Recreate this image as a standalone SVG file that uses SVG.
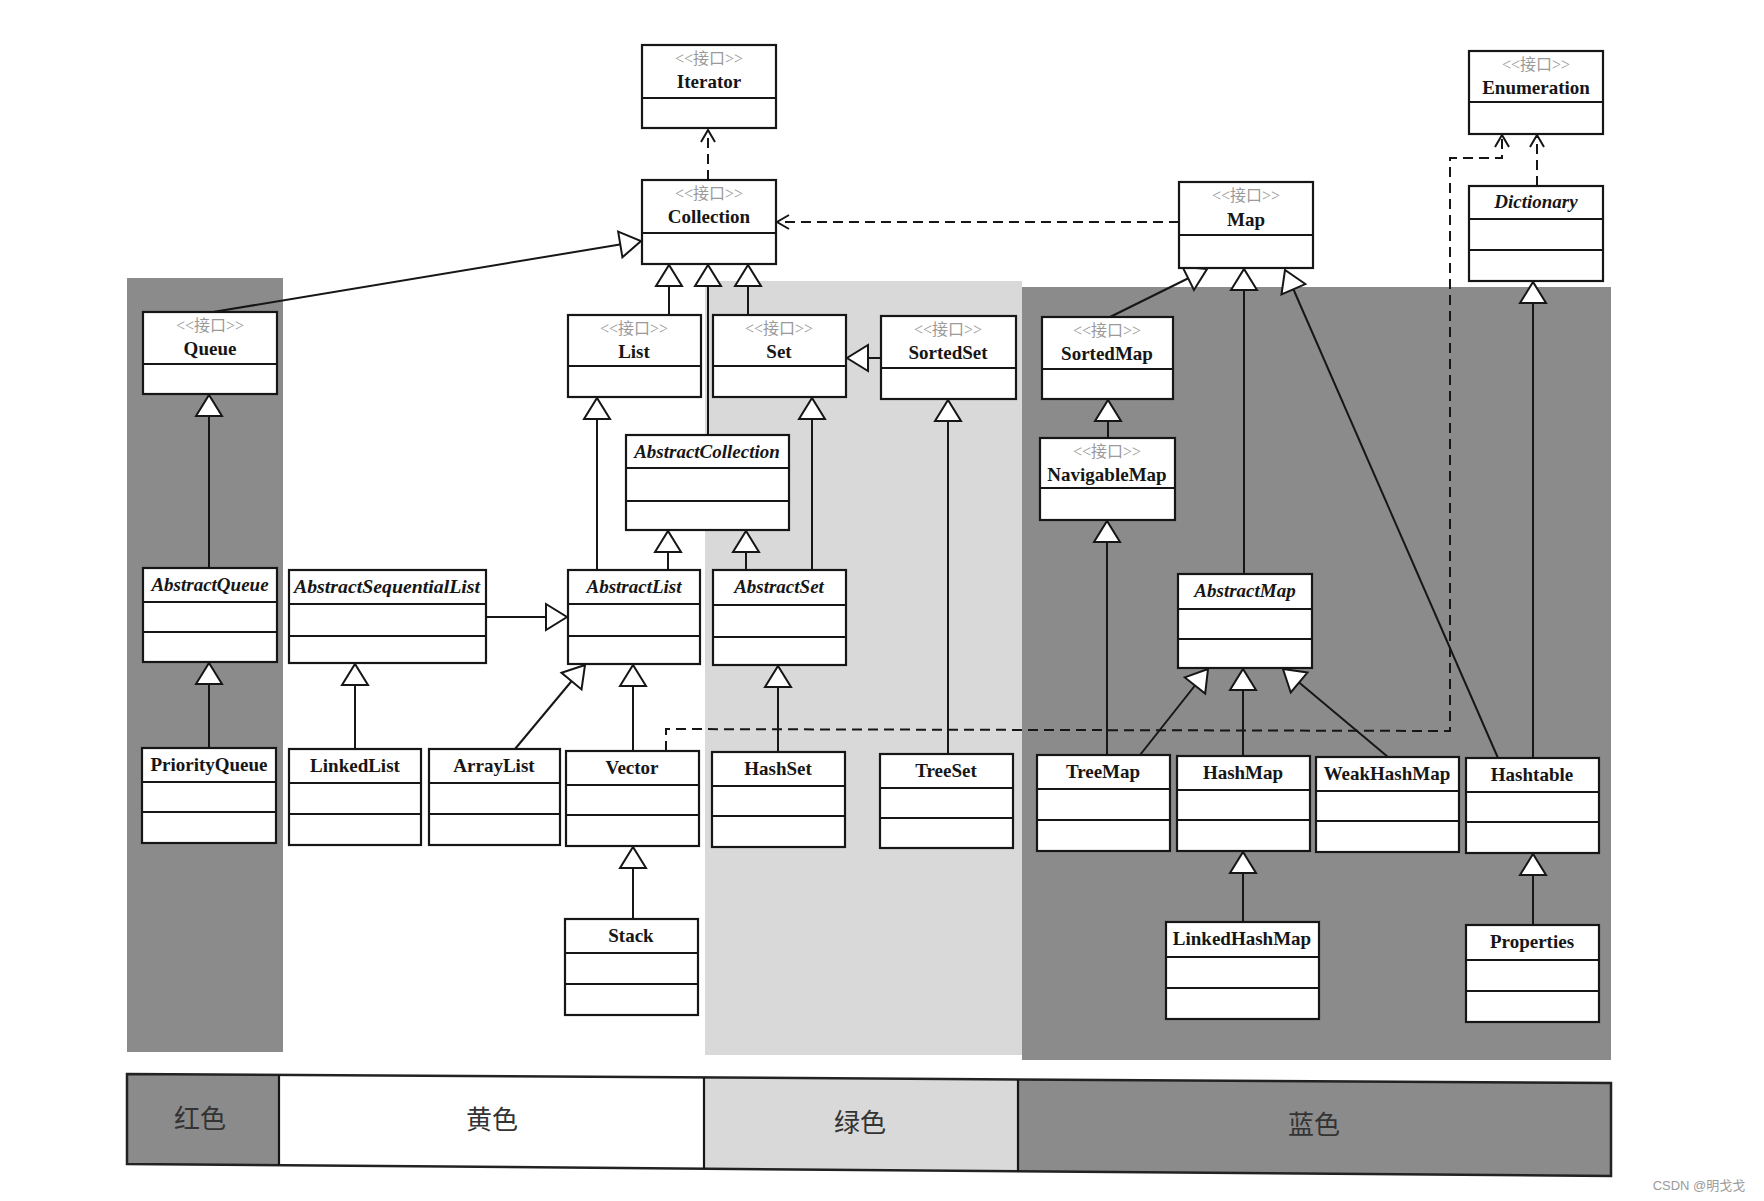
<svg xmlns="http://www.w3.org/2000/svg" width="1764" height="1201" viewBox="0 0 1764 1201">
<style>
.bg{fill:#fff}
.dk{fill:#8b8b8b}
.lt{fill:#d9d9d9}
.box{fill:#fff;stroke:#161616;stroke-width:2.2}
.dv{stroke:#161616;stroke-width:2.2}
.st{font-family:"Liberation Serif","Noto Sans CJK SC",serif;font-size:16px;fill:#9a9a9a;text-anchor:middle}
.nm{font-family:"Liberation Serif",serif;font-size:19px;font-weight:bold;fill:#161616;text-anchor:middle}
.it{font-style:italic}
.ln{stroke:#161616;stroke-width:2;fill:none}
.ds{stroke:#161616;stroke-width:2;fill:none;stroke-dasharray:10 6}
.lg{font-family:"Noto Sans CJK SC","Liberation Sans",sans-serif;font-size:26px;fill:#333;text-anchor:middle}
.wm{font-family:"Liberation Sans","Noto Sans CJK SC",sans-serif;font-size:13px;fill:#9a9a9a;text-anchor:middle}
.lgb{stroke:#222;stroke-width:2.5;fill:none}
</style>
<defs>
<marker id="tri" viewBox="-2 -2 26 32" refX="21" refY="13" markerWidth="26" markerHeight="32" markerUnits="userSpaceOnUse" orient="auto">
<path d="M0,0 L21,13 L0,26 Z" fill="#fff" stroke="#161616" stroke-width="2"/>
</marker>
<marker id="opn" viewBox="-2 -2 16 18" refX="12" refY="7" markerWidth="16" markerHeight="18" markerUnits="userSpaceOnUse" orient="auto">
<path d="M0,0 L12,7 L0,14" fill="none" stroke="#161616" stroke-width="2"/>
</marker>
</defs>
<rect class="bg" x="0" y="0" width="1764" height="1201"/>
<g id="regions">
<rect class="dk" x="127" y="278" width="156" height="774"/>
<rect class="lt" x="705" y="281" width="317" height="774"/>
<rect class="dk" x="1022" y="287" width="589" height="773"/>
</g>
<g id="legend">
<polygon class="dk" points="127,1074 279,1075 279,1165 127,1164"/>
<polygon fill="#fff" points="279,1075 704,1077.5 704,1168.7 279,1165"/>
<polygon class="lt" points="704,1077.5 1018,1079.4 1018,1171.2 704,1168.7"/>
<polygon class="dk" points="1018,1079.4 1611,1083 1611,1176 1018,1171.2"/>
<polygon class="lgb" points="127,1074 1611,1083 1611,1176 127,1164"/>
<line class="dv" x1="279" y1="1075" x2="279" y2="1165"/>
<line class="dv" x1="704" y1="1077.5" x2="704" y2="1168.7"/>
<line class="dv" x1="1018" y1="1079.4" x2="1018" y2="1171.2"/>
<text class="lg" x="200" y="1128">红色</text>
<text class="lg" x="492" y="1129">黄色</text>
<text class="lg" x="860" y="1132">绿色</text>
<text class="lg" x="1314" y="1134">蓝色</text>
</g>
<g id="connectors">
<path class="ds" d="M708,180 L708,130" marker-end="url(#opn)"/>
<path class="ds" d="M1179,222 L777,222" marker-end="url(#opn)"/>
<path class="ds" d="M1537,186 L1537,135" marker-end="url(#opn)"/>
<path class="ds" d="M666,751 L666,729 L1450,731 L1450,158 L1502,158 L1502,135" marker-end="url(#opn)"/>
<path class="ln" d="M213,312 L641,241" marker-end="url(#tri)"/>
<path class="ln" d="M669,315 L669,265" marker-end="url(#tri)"/>
<path class="ln" d="M708,435 L708,265" marker-end="url(#tri)"/>
<path class="ln" d="M748,315 L748,265" marker-end="url(#tri)"/>
<path class="ln" d="M881,358 L847,358" marker-end="url(#tri)"/>
<path class="ln" d="M597,570 L597,398" marker-end="url(#tri)"/>
<path class="ln" d="M668,570 L668,531" marker-end="url(#tri)"/>
<path class="ln" d="M746,570 L746,531" marker-end="url(#tri)"/>
<path class="ln" d="M812,570 L812,398" marker-end="url(#tri)"/>
<path class="ln" d="M948,754 L948,400" marker-end="url(#tri)"/>
<path class="ln" d="M778,752 L778,666" marker-end="url(#tri)"/>
<path class="ln" d="M209,568 L209,395" marker-end="url(#tri)"/>
<path class="ln" d="M209,748 L209,663" marker-end="url(#tri)"/>
<path class="ln" d="M486,617 L567,617" marker-end="url(#tri)"/>
<path class="ln" d="M355,749 L355,664" marker-end="url(#tri)"/>
<path class="ln" d="M515,749 L585,665" marker-end="url(#tri)"/>
<path class="ln" d="M633,751 L633,665" marker-end="url(#tri)"/>
<path class="ln" d="M633,919 L633,847" marker-end="url(#tri)"/>
<path class="ln" d="M1110,317 L1207,269" marker-end="url(#tri)"/>
<path class="ln" d="M1108,438 L1108,400" marker-end="url(#tri)"/>
<path class="ln" d="M1107,755 L1107,521" marker-end="url(#tri)"/>
<path class="ln" d="M1244,574 L1244,269" marker-end="url(#tri)"/>
<path class="ln" d="M1498,758 L1285,270" marker-end="url(#tri)"/>
<path class="ln" d="M1533,758 L1533,282" marker-end="url(#tri)"/>
<path class="ln" d="M1140,755 L1208,669" marker-end="url(#tri)"/>
<path class="ln" d="M1243,756 L1243,669" marker-end="url(#tri)"/>
<path class="ln" d="M1388,757 L1283,669" marker-end="url(#tri)"/>
<path class="ln" d="M1243,922 L1243,852" marker-end="url(#tri)"/>
<path class="ln" d="M1533,925 L1533,854" marker-end="url(#tri)"/>
</g>
<g id="Iterator"><rect class="box" x="642" y="45" width="134" height="83"/><line class="dv" x1="642" y1="98" x2="776" y2="98"/><text class="st" x="709" y="64">&lt;&lt;接口&gt;&gt;</text><text class="nm" x="709" y="88">Iterator</text></g>
<g id="Enumeration"><rect class="box" x="1469" y="51" width="134" height="83"/><line class="dv" x1="1469" y1="102" x2="1603" y2="102"/><text class="st" x="1536" y="70">&lt;&lt;接口&gt;&gt;</text><text class="nm" x="1536" y="94">Enumeration</text></g>
<g id="Collection"><rect class="box" x="642" y="180" width="134" height="84"/><line class="dv" x1="642" y1="233" x2="776" y2="233"/><text class="st" x="709" y="199">&lt;&lt;接口&gt;&gt;</text><text class="nm" x="709" y="223">Collection</text></g>
<g id="Map"><rect class="box" x="1179" y="182" width="134" height="86"/><line class="dv" x1="1179" y1="235" x2="1313" y2="235"/><text class="st" x="1246" y="201">&lt;&lt;接口&gt;&gt;</text><text class="nm" x="1246" y="226">Map</text></g>
<g id="Dictionary"><rect class="box" x="1469" y="186" width="134" height="95"/><line class="dv" x1="1469" y1="219" x2="1603" y2="219"/><line class="dv" x1="1469" y1="250" x2="1603" y2="250"/><text class="nm it" x="1536" y="208">Dictionary</text></g>
<g id="Queue"><rect class="box" x="143" y="312" width="134" height="82"/><line class="dv" x1="143" y1="364" x2="277" y2="364"/><text class="st" x="210" y="331">&lt;&lt;接口&gt;&gt;</text><text class="nm" x="210" y="355">Queue</text></g>
<g id="List"><rect class="box" x="568" y="315" width="133" height="82"/><line class="dv" x1="568" y1="366" x2="701" y2="366"/><text class="st" x="634" y="334">&lt;&lt;接口&gt;&gt;</text><text class="nm" x="634" y="358">List</text></g>
<g id="Set"><rect class="box" x="713" y="315" width="133" height="82"/><line class="dv" x1="713" y1="366" x2="846" y2="366"/><text class="st" x="779" y="334">&lt;&lt;接口&gt;&gt;</text><text class="nm" x="779" y="358">Set</text></g>
<g id="SortedSet"><rect class="box" x="881" y="316" width="135" height="83"/><line class="dv" x1="881" y1="368" x2="1016" y2="368"/><text class="st" x="948" y="335">&lt;&lt;接口&gt;&gt;</text><text class="nm" x="948" y="359">SortedSet</text></g>
<g id="SortedMap"><rect class="box" x="1042" y="317" width="131" height="82"/><line class="dv" x1="1042" y1="369" x2="1173" y2="369"/><text class="st" x="1107" y="336">&lt;&lt;接口&gt;&gt;</text><text class="nm" x="1107" y="360">SortedMap</text></g>
<g id="AbstractCollection"><rect class="box" x="626" y="435" width="163" height="95"/><line class="dv" x1="626" y1="468" x2="789" y2="468"/><line class="dv" x1="626" y1="501" x2="789" y2="501"/><text class="nm it" x="707" y="458">AbstractCollection</text></g>
<g id="NavigableMap"><rect class="box" x="1040" y="438" width="135" height="82"/><line class="dv" x1="1040" y1="488" x2="1175" y2="488"/><text class="st" x="1107" y="457">&lt;&lt;接口&gt;&gt;</text><text class="nm" x="1107" y="481">NavigableMap</text></g>
<g id="AbstractQueue"><rect class="box" x="143" y="568" width="134" height="94"/><line class="dv" x1="143" y1="602" x2="277" y2="602"/><line class="dv" x1="143" y1="632" x2="277" y2="632"/><text class="nm it" x="210" y="591">AbstractQueue</text></g>
<g id="AbstractSequentialList"><rect class="box" x="289" y="570" width="197" height="93"/><line class="dv" x1="289" y1="604" x2="486" y2="604"/><line class="dv" x1="289" y1="636" x2="486" y2="636"/><text class="nm it" x="387" y="593" textLength="186" lengthAdjust="spacingAndGlyphs">AbstractSequentialList</text></g>
<g id="AbstractList"><rect class="box" x="568" y="570" width="132" height="94"/><line class="dv" x1="568" y1="604" x2="700" y2="604"/><line class="dv" x1="568" y1="636" x2="700" y2="636"/><text class="nm it" x="634" y="593">AbstractList</text></g>
<g id="AbstractSet"><rect class="box" x="713" y="570" width="133" height="95"/><line class="dv" x1="713" y1="605" x2="846" y2="605"/><line class="dv" x1="713" y1="637" x2="846" y2="637"/><text class="nm it" x="779" y="593">AbstractSet</text></g>
<g id="AbstractMap"><rect class="box" x="1178" y="574" width="134" height="94"/><line class="dv" x1="1178" y1="609" x2="1312" y2="609"/><line class="dv" x1="1178" y1="639" x2="1312" y2="639"/><text class="nm it" x="1245" y="597">AbstractMap</text></g>
<g id="PriorityQueue"><rect class="box" x="142" y="748" width="134" height="95"/><line class="dv" x1="142" y1="782" x2="276" y2="782"/><line class="dv" x1="142" y1="812" x2="276" y2="812"/><text class="nm" x="209" y="771">PriorityQueue</text></g>
<g id="LinkedList"><rect class="box" x="289" y="749" width="132" height="96"/><line class="dv" x1="289" y1="783" x2="421" y2="783"/><line class="dv" x1="289" y1="814" x2="421" y2="814"/><text class="nm" x="355" y="772">LinkedList</text></g>
<g id="ArrayList"><rect class="box" x="429" y="749" width="131" height="96"/><line class="dv" x1="429" y1="783" x2="560" y2="783"/><line class="dv" x1="429" y1="814" x2="560" y2="814"/><text class="nm" x="494" y="772">ArrayList</text></g>
<g id="Vector"><rect class="box" x="566" y="751" width="133" height="95"/><line class="dv" x1="566" y1="785" x2="699" y2="785"/><line class="dv" x1="566" y1="815" x2="699" y2="815"/><text class="nm" x="632" y="774">Vector</text></g>
<g id="HashSet"><rect class="box" x="712" y="752" width="133" height="95"/><line class="dv" x1="712" y1="786" x2="845" y2="786"/><line class="dv" x1="712" y1="816" x2="845" y2="816"/><text class="nm" x="778" y="775">HashSet</text></g>
<g id="TreeSet"><rect class="box" x="880" y="754" width="133" height="94"/><line class="dv" x1="880" y1="788" x2="1013" y2="788"/><line class="dv" x1="880" y1="818" x2="1013" y2="818"/><text class="nm" x="946" y="777">TreeSet</text></g>
<g id="TreeMap"><rect class="box" x="1037" y="755" width="133" height="96"/><line class="dv" x1="1037" y1="789" x2="1170" y2="789"/><line class="dv" x1="1037" y1="820" x2="1170" y2="820"/><text class="nm" x="1103" y="778">TreeMap</text></g>
<g id="HashMap"><rect class="box" x="1177" y="756" width="133" height="95"/><line class="dv" x1="1177" y1="790" x2="1310" y2="790"/><line class="dv" x1="1177" y1="820" x2="1310" y2="820"/><text class="nm" x="1243" y="779">HashMap</text></g>
<g id="WeakHashMap"><rect class="box" x="1316" y="757" width="143" height="95"/><line class="dv" x1="1316" y1="791" x2="1459" y2="791"/><line class="dv" x1="1316" y1="821" x2="1459" y2="821"/><text class="nm" x="1387" y="780">WeakHashMap</text></g>
<g id="Hashtable"><rect class="box" x="1466" y="758" width="133" height="95"/><line class="dv" x1="1466" y1="792" x2="1599" y2="792"/><line class="dv" x1="1466" y1="822" x2="1599" y2="822"/><text class="nm" x="1532" y="781">Hashtable</text></g>
<g id="Stack"><rect class="box" x="565" y="919" width="133" height="96"/><line class="dv" x1="565" y1="953" x2="698" y2="953"/><line class="dv" x1="565" y1="984" x2="698" y2="984"/><text class="nm" x="631" y="942">Stack</text></g>
<g id="LinkedHashMap"><rect class="box" x="1166" y="922" width="153" height="97"/><line class="dv" x1="1166" y1="957" x2="1319" y2="957"/><line class="dv" x1="1166" y1="988" x2="1319" y2="988"/><text class="nm" x="1242" y="945">LinkedHashMap</text></g>
<g id="Properties"><rect class="box" x="1466" y="925" width="133" height="97"/><line class="dv" x1="1466" y1="960" x2="1599" y2="960"/><line class="dv" x1="1466" y1="991" x2="1599" y2="991"/><text class="nm" x="1532" y="948">Properties</text></g>
<text class="wm" x="1699" y="1190">CSDN @明戈戈</text>
</svg>
